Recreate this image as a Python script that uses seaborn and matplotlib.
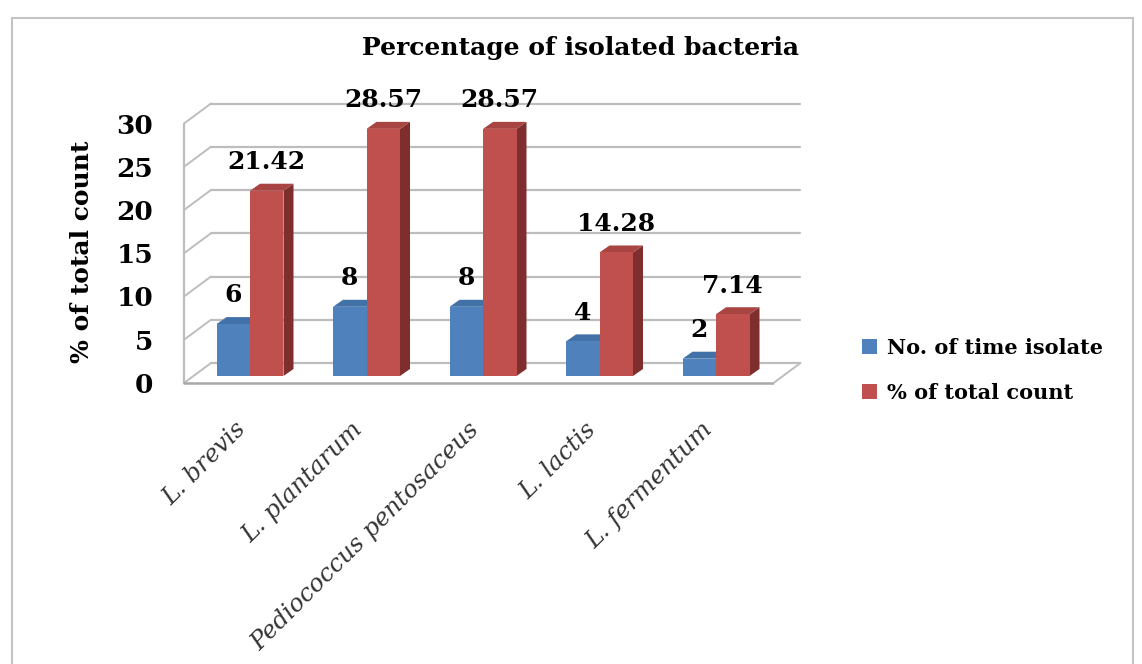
import matplotlib
matplotlib.use("Agg")
import matplotlib.pyplot as plt
import seaborn as sns
import pandas as pd
from matplotlib.patches import Polygon, Rectangle
from matplotlib.transforms import ScaledTranslation

# ---- data ----
categories = ["L. brevis", "L. plantarum", "Pediococcus pentosaceus", "L. lactis", "L. fermentum"]
isolates = [6, 8, 8, 4, 2]
percent = [21.42, 28.57, 28.57, 14.28, 7.14]
series_names = ["No. of time isolate", "% of total count"]
yticks = [0, 5, 10, 15, 20, 25, 30]

df = pd.DataFrame({
    "Bacteria": categories * 2,
    "Value": isolates + percent,
    "Series": [series_names[0]] * len(categories) + [series_names[1]] * len(categories),
})

# ---- styling ----
sns.set_theme(style="white")
plt.rcParams["font.family"] = ["DejaVu Serif"]
plt.rcParams["text.color"] = "black"
plt.rcParams["xtick.color"] = "black"
plt.rcParams["ytick.color"] = "black"

BLUE, RED = "#4F81BD", "#C0504D"
SIDE = {BLUE: "#3A6190", RED: "#7E2F2D"}
TOP = {BLUE: "#4271A8", RED: "#A84542"}
GRID = "#BDBDBD"

W, H = 1142, 664
fig = plt.figure(figsize=(W / 100, H / 100), dpi=100)
fig.patch.set_facecolor("white")

L_px, R_px, B_px, T_px = 193.5, 783.0, 376.0, 116.5
X0, X1 = -0.485, 4.575
ax = fig.add_axes([L_px / W, (H - B_px) / H, (R_px - L_px) / W, (B_px - T_px) / H])
ax.set_facecolor("none")

pxx = (R_px - L_px) / (X1 - X0)
pxy = (B_px - T_px) / 30.0

sns.barplot(data=df, x="Bacteria", y="Value", hue="Series", palette=[BLUE, RED],
            width=0.575, saturation=1, ax=ax, zorder=3, edgecolor="none")

ax.set_xlim(X0, X1)
ax.set_ylim(0, 30)
for s in ax.spines.values():
    s.set_visible(False)
ax.grid(False)

# pseudo-3D frame (back wall / left wall / floor)
bx, by = 17.5 / pxx, 13 / pxy
fx, fy = -9.5 / pxx, -7 / pxy
for v in yticks:
    ax.plot([X0 + bx, X1 + bx], [v + by, v + by], color=GRID, lw=1.6, zorder=0.5, clip_on=False)
    ax.plot([X0 + bx, X0 + fx], [v + by, v + fy], color=GRID, lw=1.4, zorder=0.5, clip_on=False)
ax.plot([X0 + fx, X0 + fx], [fy, 30 + fy], color=GRID, lw=1.6, zorder=0.5, clip_on=False)
ax.plot([X0 + fx, X1 + fx], [fy, fy], color="#A8A8A8", lw=1.8, zorder=0.6, clip_on=False)
ax.plot([X1 + fx, X1 + bx], [fy, by], color=GRID, lw=1.4, zorder=0.6, clip_on=False)

# bar depth faces
dx, dy = 10 / pxx, 7 / pxy
for cont, col in zip(ax.containers, [BLUE, RED]):
    for p in cont.patches:
        x0 = p.get_x(); x1 = x0 + p.get_width(); h = p.get_height()
        ax.add_patch(Polygon([(x1, 0), (x1 + dx, dy), (x1 + dx, h + dy), (x1, h)],
                             closed=True, fc=SIDE[col], ec="none", zorder=2, clip_on=False))
        ax.add_patch(Polygon([(x0, h), (x1, h), (x1 + dx, h + dy), (x0 + dx, h + dy)],
                             closed=True, fc=TOP[col], ec="none", zorder=2, clip_on=False))
    ax.bar_label(cont, fmt="%g", padding=12, fontsize=18, fontweight="bold",
                 family="DejaVu Serif", color="black", zorder=5)

# ticks
ax.set_yticks(yticks)
ax.tick_params(axis="y", length=0, pad=29, labelsize=19, labelcolor="black")
for lbl in ax.get_yticklabels():
    lbl.set_fontweight("bold")
off = ScaledTranslation(0, -7 / 100, fig.dpi_scale_trans)
for t in ax.yaxis.get_major_ticks():
    t.label1.set_transform(t.label1.get_transform() + off)

ax.tick_params(axis="x", length=0, pad=36, labelsize=17.5, labelcolor="#333333")
xoff = ScaledTranslation(-7 / 100, 0, fig.dpi_scale_trans)
for t in ax.xaxis.get_major_ticks():
    t.label1.set_transform(t.label1.get_transform() + xoff)
for lbl in ax.get_xticklabels():
    lbl.set_rotation(45)
    lbl.set_ha("right")
    lbl.set_va("center")
    lbl.set_rotation_mode("anchor")
    lbl.set_fontstyle("italic")
ax.set_xlabel("")
ax.set_ylabel("")

# legend
handles, labels = ax.get_legend_handles_labels()
leg = ax.legend(handles, labels, loc="center left", bbox_to_anchor=(843 / W, 1 - 370 / H),
                bbox_transform=fig.transFigure, frameon=False, handlelength=0.75, handleheight=0.75,
                handletextpad=0.45, labelspacing=1.2,
                prop={"family": "DejaVu Serif", "weight": "bold", "size": 15})
for t in leg.get_texts():
    t.set_color("black")

# titles
fig.text(581 / W, 1 - 48 / H, "Percentage of isolated bacteria", ha="center", va="center",
         fontsize=18, fontweight="bold", color="black")
fig.text(82 / W, 1 - 252 / H, "% of total count", ha="center", va="center", rotation=90,
         fontsize=18, fontweight="bold", color="black")

# outer border
fig.patches.append(Rectangle((12 / W, -0.05), (1133 - 12) / W, (H - 18) / H + 0.05,
                             transform=fig.transFigure, fill=False, ec="#C4C4C4", lw=1.5))

fig.savefig("out.png", dpi=100)
